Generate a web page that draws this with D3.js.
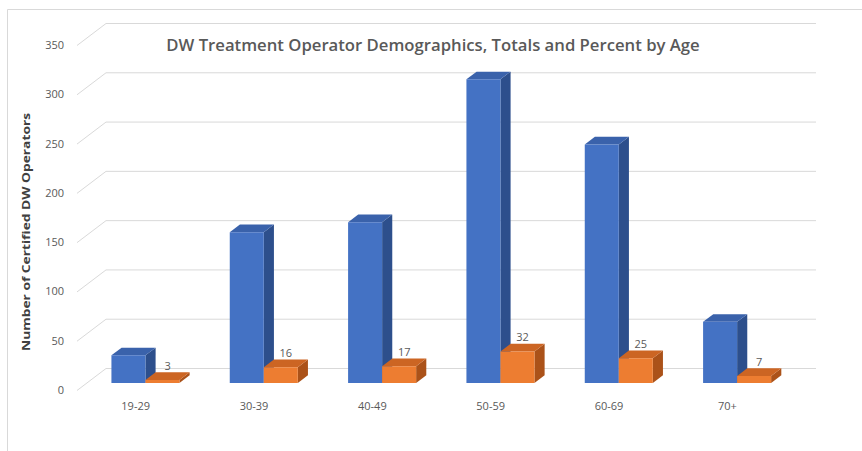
<!DOCTYPE html>
<html lang="en">
  <head>
    <title>DW Treatment Operator Demographics</title>
    <script src="https://d3js.org/d3.v7.min.js"></script>
    <style>
      body {
        margin: 0;
        background: #fff;
      }
      text {
        font-family: "Open Sans", "Liberation Sans", sans-serif;
      }
      .grid {
        stroke: #d9d9d9;
        stroke-width: 1;
        fill: none;
      }
      .tick text {
        fill: #595959;
        font-size: 11px;
      }
    </style>
  </head>
  <body>
    <script>
      const categories = ['19-29', '30-39', '40-49', '50-59', '60-69', '70+'];
      const totals = [28, 153, 163, 308, 242, 62];
      const percents = [3, 16, 17, 32, 25, 7];
      const yTicks = [0, 50, 100, 150, 200, 250, 300, 350];

      const w = 862;
      const h = 451;
      // depth of the 3d box (front plane -> back wall)
      const dx = 29;
      const dy = -22;
      const zFront = 0.32;
      const zBack = 0.67;

      const svg = d3.select('body')
                    .append('svg')
                    .attr('width', w)
                    .attr('height', h);

      svg.append('rect')
         .attr('width', w)
         .attr('height', h)
         .attr('fill', '#fff');

      // chart border (top and left only visible)
      svg.append('path')
         .attr('d', `M7.5,${h} V9.5 H${w}`)
         .attr('stroke', '#d9d9d9')
         .attr('fill', 'none');

      const xScale = d3.scaleBand()
                       .domain(categories)
                       .range([77, 787]);

      const yScale = d3.scaleLinear()
                       .domain([0, 350])
                       .range([390, 45]);

      const proj = (px, v, z) => [px + z * dx, yScale(v) + z * dy];

      // gridlines: slanted on the side wall, straight on the back wall
      const grid = svg.append('g');
      yTicks.forEach(t => {
        const [x0, y0] = proj(xScale.range()[0], t, 0);
        const [x1, y1] = proj(xScale.range()[0], t, 1);
        const [x2] = proj(xScale.range()[1], t, 1);
        grid.append('path')
            .attr('class', 'grid')
            .attr('d', `M${x0},${y0 + 0.5} L${x1},${y1 + 0.5} H${x2}`);
      });

      const bw = xScale.bandwidth();
      const barW = bw * 0.2875;

      const series = [
        { values: totals, offset: -1, front: '#4472c4', top: '#3a62ab', side: '#2d4f8c' },
        { values: percents, offset: 0, front: '#ed7d31', top: '#cc6523', side: '#ab5219' }
      ];

      const bars = svg.append('g');
      const pts = a => a.map(p => p.join(',')).join(' ');

      categories.forEach((c, i) => {
        const cx = xScale(c) + bw / 2;
        series.forEach(s => {
          const v = s.values[i];
          const xl = cx + s.offset * barW;
          const xr = xl + barW;
          const fBL = proj(xl, 0, zFront), fBR = proj(xr, 0, zFront);
          const fTL = proj(xl, v, zFront), fTR = proj(xr, v, zFront);
          const bTL = proj(xl, v, zBack), bTR = proj(xr, v, zBack);
          const bBR = proj(xr, 0, zBack);
          bars.append('polygon')
              .attr('points', pts([fBR, fTR, bTR, bBR]))
              .attr('fill', s.side);
          bars.append('polygon')
              .attr('points', pts([fTL, fTR, bTR, bTL]))
              .attr('fill', s.top);
          bars.append('polygon')
              .attr('points', pts([fBL, fTL, fTR, fBR]))
              .attr('fill', s.front);
        });
      });

      // data labels on the percent bars
      svg.append('g')
         .selectAll('text')
         .data(categories)
         .enter()
         .append('text')
          .attr('x', (c, i) => proj(xScale(c) + bw / 2 + barW / 2, percents[i], (zFront + zBack) / 2)[0])
          .attr('y', (c, i) => proj(0, percents[i], zBack)[1] - 2.5)
          .attr('text-anchor', 'middle')
          .attr('font-size', '11px')
          .attr('fill', '#595959')
          .text((c, i) => percents[i]);

      const yAxis = d3.axisLeft(yScale)
                      .tickValues(yTicks)
                      .tickSize(0)
                      .tickPadding(0);

      svg.append('g')
         .attr('transform', 'translate(64, 0)')
         .call(yAxis)
         .call(g => g.select('.domain').remove());

      const xAxis = d3.axisBottom(xScale)
                      .tickSize(0)
                      .tickPadding(10);

      svg.append('g')
         .attr('transform', 'translate(-0.5, 392)')
         .call(xAxis)
         .call(g => g.select('.domain').remove());

      const title = svg.append('text')
         .attr('x', 433)
         .attr('y', 51)
         .attr('text-anchor', 'middle')
         .attr('font-size', '17px')
         .attr('font-weight', 600)
         .attr('fill', '#595959')
         .text('DW Treatment Operator Demographics, Totals and Percent by Age');
      const tl = title.node().getComputedTextLength();
      title.attr('font-size', (17 * 534 / tl) + 'px');

      // axis title: short glyphs stretched along the axis, like the original
      svg.append('text')
         .attr('transform', 'translate(26, 232) rotate(-90)')
         .attr('text-anchor', 'middle')
         .attr('dominant-baseline', 'central')
         .attr('font-size', '10px')
         .attr('font-weight', 700)
         .attr('fill', '#404040')
         .attr('textLength', 238)
         .attr('lengthAdjust', 'spacingAndGlyphs')
         .text('Number of Certified DW Operators');
    </script>
  </body>
</html>
